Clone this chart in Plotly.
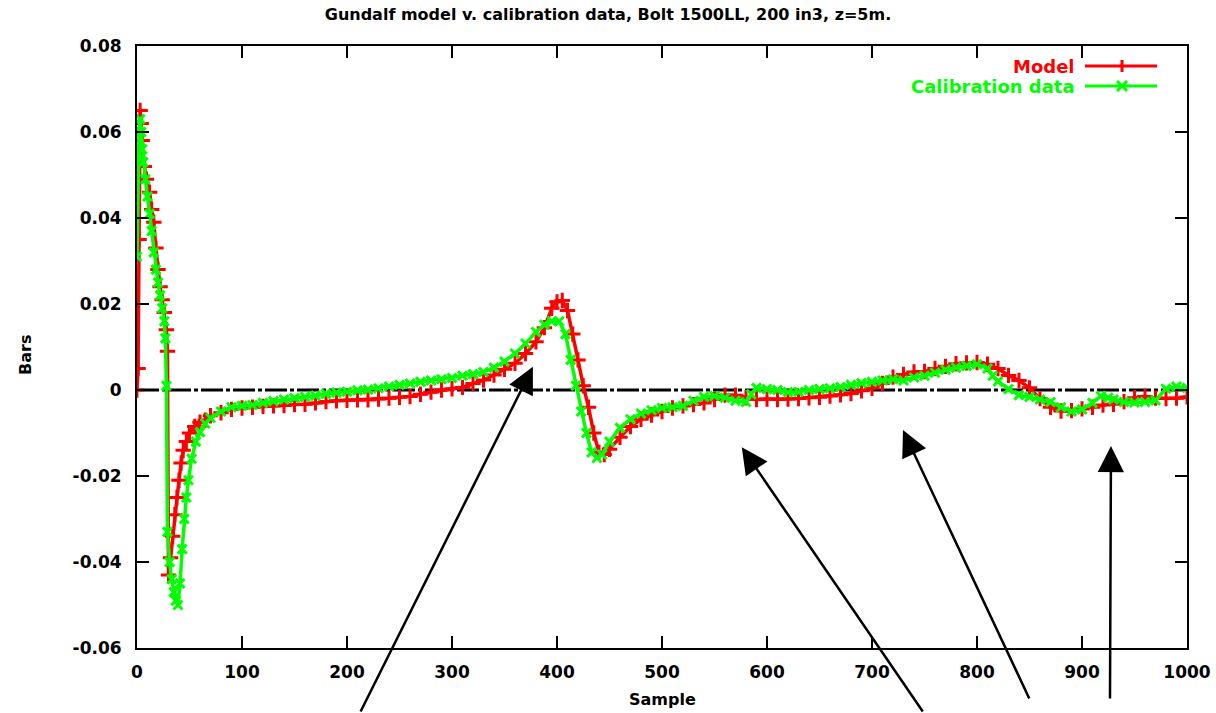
import plotly.graph_objects as go

# ---------------- data ----------------
model_samples = [0, 1, 2, 3, 4, 5, 7, 9, 12, 14, 16, 18, 20, 22, 24, 26, 28, 29, 30, 32, 34, 36, 38, 40, 42, 44, 47, 50,
                 55, 60, 65, 70, 80, 90, 100, 110, 120, 130, 140, 150, 160, 170, 180, 190, 200, 210, 220, 230, 240, 250,
                 260, 270, 280, 290, 300, 310, 320, 330, 340, 350, 360, 370, 380, 388, 395, 400, 405, 410, 415, 420, 425,
                 430, 435, 440, 445, 450, 460, 470, 480, 490, 500, 510, 520, 530, 540, 550, 560, 570, 580, 590, 600, 610,
                 620, 630, 640, 650, 660, 670, 680, 690, 700, 710, 720, 730, 740, 750, 760, 770, 780, 790, 800, 810, 820,
                 830, 840, 850, 860, 870, 880, 890, 900, 910, 920, 930, 940, 950, 960, 970, 980, 990, 1000]
model_values = [0.0, 0.005, 0.035, 0.065, 0.062, 0.058, 0.052, 0.049, 0.046, 0.042, 0.039, 0.033, 0.028, 0.024, 0.021,
                0.018, 0.014, 0.009, -0.043, -0.039, -0.034, -0.029, -0.025, -0.021, -0.017, -0.014, -0.012, -0.010,
                -0.0085, -0.0075, -0.007, -0.006, -0.0053, -0.0045, -0.0042, -0.0040, -0.0038, -0.0037, -0.0036,
                -0.0034, -0.0033, -0.0030, -0.0027, -0.0025, -0.0024, -0.0023, -0.0023, -0.0021, -0.0019, -0.0017,
                -0.0015, -0.0010, -0.0005, 0.0, 0.0003, 0.0006, 0.0015, 0.0023, 0.0035, 0.0048, 0.0062, 0.0085, 0.0112,
                0.0145, 0.0190, 0.0205, 0.0208, 0.0185, 0.0130, 0.0070, 0.0010, -0.0040, -0.0100, -0.0145, -0.0150,
                -0.0138, -0.0110, -0.0085, -0.0068, -0.0058, -0.0050, -0.0042, -0.0037, -0.0034, -0.0030, -0.0022,
                -0.0012, -0.0012, -0.0018, -0.0022, -0.0021, -0.0022, -0.0021, -0.0020, -0.0018, -0.0017, -0.0014,
                -0.0011, -0.0008, -0.0002, 0.0004, 0.0015, 0.0030, 0.0036, 0.0042, 0.0043, 0.0050, 0.0055, 0.0061,
                0.0063, 0.0064, 0.0060, 0.0050, 0.0034, 0.0022, 0.0005, -0.0020, -0.0040, -0.0049, -0.0048, -0.0044,
                -0.0040, -0.0035, -0.0033, -0.0027, -0.0018, -0.0015, -0.0019, -0.0020, -0.0019, -0.0016]

calib_samples = [0, 1, 2, 3, 4, 5, 6, 8, 10, 12, 14, 16, 18, 20, 22, 24, 26, 27, 28, 29, 31, 33, 35, 37, 39, 41, 43, 45,
                 47, 49, 52, 56, 60, 65, 70, 80, 90, 100, 110, 120, 130, 140, 150, 160, 170, 180, 190, 200, 210, 220,
                 230, 240, 250, 260, 270, 280, 290, 300, 310, 320, 330, 340, 350, 360, 370, 380, 388, 395, 402, 408,
                 413, 418, 423, 428, 433, 438, 443, 450, 460, 470, 480, 490, 500, 510, 520, 530, 540, 550, 560, 570,
                 580, 585, 590, 600, 610, 620, 630, 640, 650, 660, 670, 680, 690, 700, 710, 720, 730, 740, 750, 760,
                 770, 780, 790, 800, 810, 815, 820, 830, 840, 850, 860, 870, 880, 890, 900, 910, 918, 925, 930, 940,
                 950, 960, 970, 980, 990, 1000]
calib_values = [0.031, 0.055, 0.060, 0.063, 0.060, 0.056, 0.053, 0.049, 0.045, 0.041, 0.037, 0.032, 0.028, 0.025, 0.022,
                0.019, 0.016, 0.012, 0.001, -0.033, -0.040, -0.044, -0.047, -0.049, -0.050, -0.045, -0.037, -0.030,
                -0.025, -0.021, -0.016, -0.012, -0.0098, -0.0078, -0.0065, -0.0050, -0.0040, -0.0037, -0.0035,
                -0.0030, -0.0026, -0.0022, -0.0019, -0.0016, -0.0013, -0.0009, -0.0006, -0.0004, -0.0001, 0.0001,
                0.0004, 0.0008, 0.0012, 0.0015, 0.0019, 0.0022, 0.0025, 0.0028, 0.0033, 0.0037, 0.0042, 0.0052, 0.0066,
                0.0085, 0.0108, 0.0135, 0.0152, 0.0160, 0.0160, 0.0130, 0.0070, 0.0010, -0.0050, -0.0100, -0.0145,
                -0.0158, -0.0150, -0.0120, -0.0088, -0.0068, -0.0055, -0.0047, -0.0042, -0.0040, -0.0037, -0.0025,
                -0.0016, -0.0014, -0.0018, -0.0025, -0.0028, -0.0010, 0.0005, 0.0002, 0.0, -0.0005, -0.0004, 0.0,
                0.0002, 0.0004, 0.0007, 0.0012, 0.0016, 0.0019, 0.0022, 0.0025, 0.0022, 0.0029, 0.0033, 0.0040,
                0.0047, 0.0052, 0.0056, 0.0060, 0.0050, 0.0033, 0.0020, 0.0002, -0.0012, -0.0016, -0.0022, -0.0028,
                -0.0040, -0.0050, -0.0045, -0.0030, -0.0014, -0.0018, -0.0022, -0.0028, -0.0029, -0.0028, -0.0024,
                0.0003, 0.0008, 0.0005]

x_tick_vals = [0, 100, 200, 300, 400, 500, 600, 700, 800, 900, 1000]
y_tick_vals = [-0.06, -0.04, -0.02, 0, 0.02, 0.04, 0.06, 0.08]
y_tick_text = ["-0.06", "-0.04", "-0.02", "0", "0.02", "0.04", "0.06", "0.08"]

series_names = ["Model", "Calibration data"]

# arrow heads (sample, value) and tail offsets (pixels)
arrow_heads_x = [377, 576, 729.5, 927.6]
arrow_heads_y = [0.0054, -0.0133, -0.0093, -0.0130]
arrow_tail_dx = [-173, 182, 127, -1]
arrow_tail_dy = [363, 280, 270, 254]

# ---------------- figure ----------------
RED = "#ff0000"
GREEN = "#00ff00"
FONT = "DejaVu Sans"

fig = go.Figure()

fig.add_trace(go.Scatter(
    x=model_samples, y=model_values, name=series_names[0], mode="lines+markers",
    line=dict(color=RED, width=3.5),
    marker=dict(symbol="cross-thin", size=11, line=dict(color=RED, width=3), color=RED),
    showlegend=False))
fig.add_trace(go.Scatter(
    x=calib_samples, y=calib_values, name=series_names[1], mode="lines+markers",
    line=dict(color=GREEN, width=3.5),
    marker=dict(symbol="x-thin", size=9, line=dict(color=GREEN, width=3), color=GREEN),
    showlegend=False))

W, H = 1216, 713
L, R, T, B = 137, 29, 46, 65
pw, ph = W - L - R, H - T - B


def px(xp):
    return (xp - L) / pw


def py(yp):
    return (H - B - yp) / ph


shapes = [
    dict(type="line", xref="x", yref="y", x0=0, x1=1000, y0=0, y1=0, layer="below",
         line=dict(color="black", width=3, dash="22px,3px,4px,3px")),
]
# legend keys
for col, yy in [(RED, 66), (GREEN, 86)]:
    shapes.append(dict(type="line", xref="paper", yref="paper", x0=px(1085), x1=px(1157), y0=py(yy), y1=py(yy),
                       line=dict(color=col, width=3)))
shapes.append(dict(type="line", xref="paper", yref="paper", x0=px(1122), x1=px(1122), y0=py(60), y1=py(72),
                   line=dict(color=RED, width=3)))
shapes.append(dict(type="line", xref="paper", yref="paper", x0=px(1117), x1=px(1127), y0=py(81), y1=py(91),
                   line=dict(color=GREEN, width=3)))
shapes.append(dict(type="line", xref="paper", yref="paper", x0=px(1117), x1=px(1127), y0=py(91), y1=py(81),
                   line=dict(color=GREEN, width=3)))

annotations = []
for hx, hy, dx, dy in zip(arrow_heads_x, arrow_heads_y, arrow_tail_dx, arrow_tail_dy):
    annotations.append(dict(x=hx, y=hy, xref="x", yref="y", ax=dx, ay=dy, text="", showarrow=True,
                            arrowhead=2, arrowsize=2.1, arrowwidth=2.5, arrowcolor="black", standoff=0))
annotations.append(dict(x=px(1077), y=py(66), xref="paper", yref="paper", xanchor="right", yanchor="middle",
                        text=series_names[0], showarrow=False,
                        font=dict(family=FONT, size=18, color=RED, weight="bold")))
annotations.append(dict(x=px(1077), y=py(86), xref="paper", yref="paper", xanchor="right", yanchor="middle",
                        text=series_names[1], showarrow=False,
                        font=dict(family=FONT, size=18, color=GREEN, weight="bold")))
annotations.append(dict(x=px(25), y=py(355), xref="paper", yref="paper", xanchor="center", yanchor="middle",
                        text="Bars", textangle=-90, showarrow=False,
                        font=dict(family=FONT, size=16, color="black", weight="bold")))
annotations.append(dict(x=px(662), y=py(700), xref="paper", yref="paper", xanchor="center", yanchor="middle",
                        text="Sample", showarrow=False,
                        font=dict(family=FONT, size=16, color="black", weight="bold")))

fig.update_layout(
    width=W, height=H,
    margin=dict(l=L, r=R, t=T, b=B, pad=0, autoexpand=False),
    paper_bgcolor="white", plot_bgcolor="white",
    title=dict(text="Gundalf model v. calibration data, Bolt 1500LL, 200 in3, z=5m.",
               x=0.5, xref="container", xanchor="center", y=1 - 14 / H, yref="container", yanchor="middle",
               font=dict(family=FONT, size=16, color="black", weight="bold")),
    font=dict(family=FONT, color="black"),
    shapes=shapes,
    annotations=annotations,
    showlegend=False,
)
fig.update_xaxes(range=[0, 1000], tickvals=x_tick_vals, ticks="inside", ticklen=12, tickwidth=2,
                 tickcolor="black", showline=True, linecolor="black", linewidth=2, mirror="ticks",
                 showgrid=False, zeroline=False, ticklabelstandoff=8, automargin=False,
                 tickfont=dict(family=FONT, size=17, color="black", weight="bold"))
fig.update_yaxes(range=[-0.06, 0.08], tickvals=y_tick_vals, ticktext=y_tick_text, ticks="inside", ticklen=12,
                 tickwidth=2, tickcolor="black", showline=True, linecolor="black", linewidth=2, mirror="ticks",
                 showgrid=False, zeroline=False, ticklabelstandoff=10, automargin=False,
                 tickfont=dict(family=FONT, size=17, color="black", weight="bold"))

fig.write_html("out.html")
